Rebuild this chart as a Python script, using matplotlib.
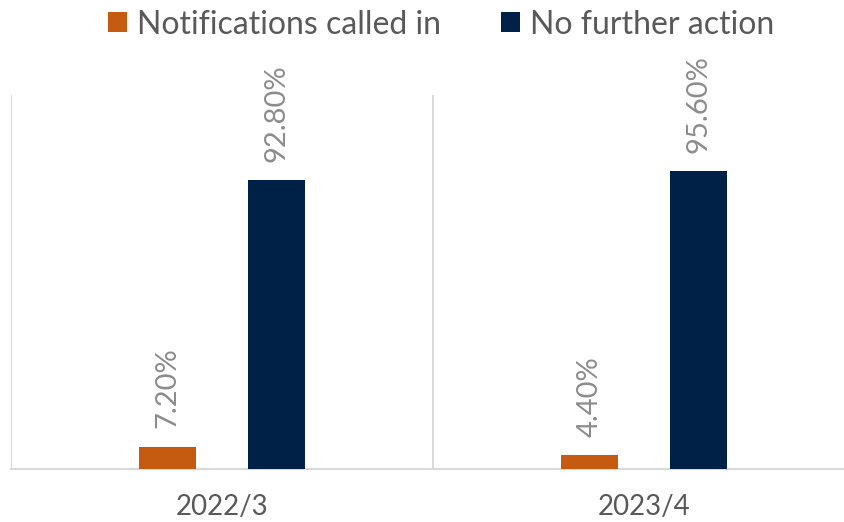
import matplotlib.pyplot as plt
import numpy as np

# данные
categories = ['2022/3', '2023/4']
called_in = [7.2, 4.4]
no_action = [92.8, 95.6]
series_names = ['Notifications called in', 'No further action']

plt.rcParams['font.family'] = ['Lato', 'DejaVu Sans']

fig = plt.figure(figsize=(8.45, 5.22), dpi=100)
# правый край оси уходит за край рисунка, как в оригинале
ax = fig.add_axes([0.013, 0.1015, 0.9988, 0.7165])

x = np.arange(len(categories))
w = 0.137
off = 0.129
b1 = ax.bar(x - off, called_in, w, color='#C55A11', label=series_names[0], zorder=3)
b2 = ax.bar(x + off, no_action, w, color='#002147', label=series_names[1], zorder=3)

# подписи значений
for bars, vals in [(b1, called_in), (b2, no_action)]:
    for r, v in zip(bars, vals):
        ax.text(r.get_x() + r.get_width() / 2, v + 5.8, f'{v:.2f}%',
                rotation=90, ha='center', va='bottom',
                fontsize=21, color='#8c8c8c')

ax.set_xlim(-0.5, len(categories) - 0.5)
ax.set_ylim(0, 120)
ax.set_xticks(x)
ax.set_xticklabels(categories, fontsize=20, color='#595959')
ax.tick_params(axis='x', length=0, pad=18)
ax.set_yticks([])

# вертикальные разделители категорий
for b in np.arange(-0.5, len(categories), 1.0):
    ax.axvline(b, color='#d9d9d9', lw=1.5, zorder=1)

for s in ['top', 'right', 'left']:
    ax.spines[s].set_visible(False)
ax.spines['bottom'].set_color('#d9d9d9')
ax.spines['bottom'].set_linewidth(1.5)

fig.legend(loc='center', bbox_to_anchor=(0.522, 0.953), ncol=2, frameon=False,
           fontsize=23, labelcolor='#595959', handlelength=0.6, handleheight=0.6,
           handletextpad=0.3, columnspacing=1.9)

fig.savefig('out.png', dpi=100)
